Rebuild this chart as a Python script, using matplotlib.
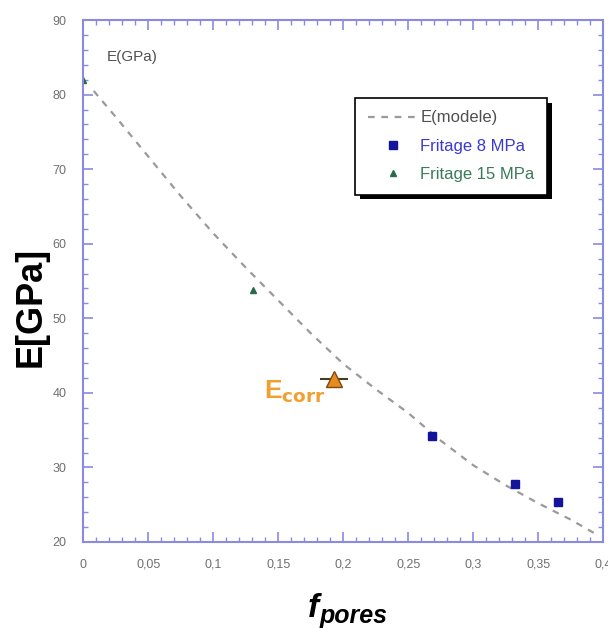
import matplotlib.pyplot as plt
from matplotlib.ticker import MultipleLocator, FuncFormatter
import matplotlib.patheffects as pe

plt.rcParams["font.family"] = ["Liberation Sans", "DejaVu Sans"]

# model curve
model_f = [0.008, 0.025, 0.05, 0.075, 0.1, 0.125, 0.15, 0.175, 0.2, 0.225,
           0.25, 0.275, 0.3, 0.325, 0.35, 0.375, 0.395]
model_e = [80.5, 77.0, 71.7, 66.4, 61.4, 56.8, 52.4, 48.0, 43.9, 40.5,
           37.3, 33.6, 30.3, 27.6, 25.2, 23.0, 21.0]

# Fritage 8 MPa
f_8mpa = [0.268, 0.332, 0.365]
e_8mpa = [34.2, 27.8, 25.4]

# Fritage 15 MPa
f_15mpa = [0.0, 0.1305]
e_15mpa = [82.0, 53.8]

# E corr
f_corr = [0.193]
e_corr = [41.9]

AXIS_COLOR = "#8a8ae0"
TICK_TEXT = "#707070"


def comma(v, pos):
    s = ("%.2f" % v).rstrip("0").rstrip(".")
    return s.replace(".", ",")


fig = plt.figure(figsize=(6.08, 6.28), dpi=100)
ax = fig.add_axes([0.137, 0.137, 0.855, 0.831])

ax.plot(model_f, model_e, color="#9a9a9a", linestyle=(0, (3, 3)), linewidth=1.6,
        label="E(modele)")
ax.plot(f_8mpa, e_8mpa, linestyle="none", marker="s", markersize=5.5,
        color="#14149a", label="Fritage 8 MPa")
ax.plot(f_15mpa, e_15mpa, linestyle="none", marker="^", markersize=4,
        color="#2a6a4a", label="Fritage 15 MPa")
ax.errorbar(f_corr, e_corr, xerr=0.011, fmt="^", markersize=11,
            color="#e88a20", markeredgecolor="#7a4a10", ecolor="#4a3a20",
            elinewidth=1.5, capsize=0, zorder=5)

ax.text(0.139, 40.2, r"E$_{\mathbf{corr}}$", color="#f0a030", fontsize=19,
        fontweight="bold", ha="left", va="center")
ax.text(0.018, 85.0, "E(GPa)", color="#505050", fontsize=11, va="center")

ax.set_xlim(0, 0.4)
ax.set_ylim(20, 90)
ax.xaxis.set_major_locator(MultipleLocator(0.05))
ax.xaxis.set_minor_locator(MultipleLocator(0.01))
ax.yaxis.set_major_locator(MultipleLocator(10))
ax.yaxis.set_minor_locator(MultipleLocator(2))
ax.xaxis.set_major_formatter(FuncFormatter(comma))

for side in ax.spines.values():
    side.set_color(AXIS_COLOR)
    side.set_linewidth(1.5)
ax.tick_params(which="both", direction="in", top=True, right=True,
               color=AXIS_COLOR, labelcolor=TICK_TEXT, labelsize=9)
ax.tick_params(which="major", length=7, width=1.2, pad=12)
ax.tick_params(which="minor", length=3.5, width=1)

fig.text(0.051, 0.511, "E[GPa]", fontsize=26, fontweight="bold",
         rotation=90, ha="center", va="center")
fig.text(0.515, 0.0175, "f", fontsize=24, fontweight="bold", style="italic",
         ha="center", va="baseline")
fig.text(0.526, 0.008, "pores", fontsize=18, fontweight="bold", style="italic",
         ha="left", va="baseline")

leg = ax.legend(loc="upper left", bbox_to_anchor=(0.523, 0.851), frameon=True,
                fancybox=False, shadow=False, framealpha=1, fontsize=12,
                handlelength=3.0, labelspacing=0.8, borderpad=0.75,
                handletextpad=0.15, borderaxespad=0)
frame = leg.get_frame()
frame.set_facecolor("white")
frame.set_edgecolor("black")
frame.set_linewidth(1.2)
frame.set_path_effects([pe.SimplePatchShadow(offset=(3.5, -3.5),
                                             shadow_rgbFace="black", alpha=1),
                        pe.Normal()])
text_colors = ["#505050", "#3a3ad0", "#3a7a5a"]
for t, c in zip(leg.get_texts(), text_colors):
    t.set_color(c)

plt.savefig("out.png", dpi=100)
